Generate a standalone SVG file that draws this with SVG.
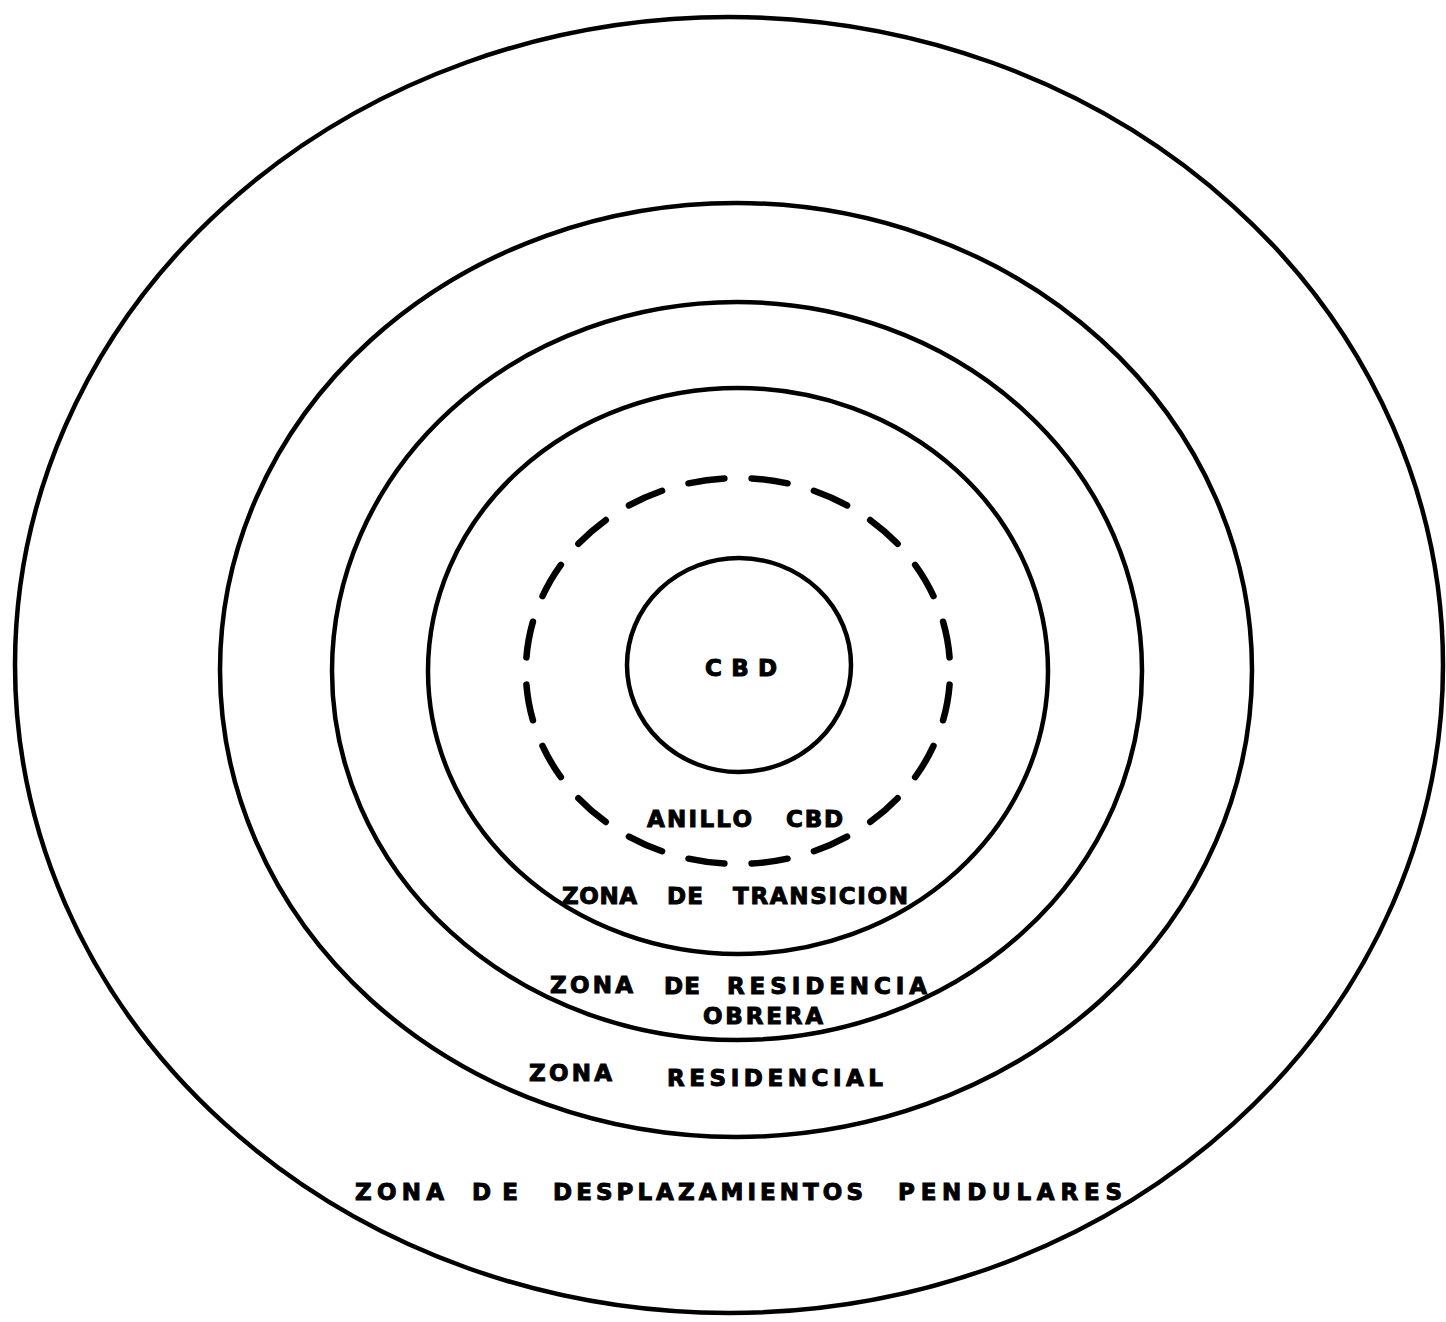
<svg xmlns="http://www.w3.org/2000/svg" width="1446" height="1322" viewBox="0 0 1446 1322">
<style>
.ring{fill:none;stroke:#000;stroke-width:4.5}
.dash{fill:none;stroke:#000;stroke-width:6.5;stroke-linecap:round;stroke-dasharray:0.57 0.43;stroke-dashoffset:0.785}
.lbl{font-family:"DejaVu Sans","Liberation Sans",Arial,sans-serif;font-weight:bold;font-size:23px;fill:#000;stroke:#000;stroke-width:1}
</style>
<rect x="0" y="0" width="1446" height="1322" fill="#fff"/>
<g id="connectors"></g>
<g id="zona-desplazamientos">
<ellipse class="ring" cx="729" cy="665" rx="714" ry="648" stroke-width="3.8"/>
<text class="lbl"><tspan x="355" y="1200" textLength="89" lengthAdjust="spacing">ZONA</tspan><tspan x="472" y="1200" textLength="46" lengthAdjust="spacing">DE</tspan><tspan x="553" y="1200" textLength="310" lengthAdjust="spacing">DESPLAZAMIENTOS</tspan><tspan x="898" y="1200" textLength="224" lengthAdjust="spacing">PENDULARES</tspan></text>
</g>
<g id="zona-residencial">
<ellipse class="ring" cx="736" cy="670" rx="516" ry="467"/>
<text class="lbl"><tspan x="529" y="1081" textLength="83" lengthAdjust="spacing">ZONA</tspan><tspan x="667" y="1086" textLength="216" lengthAdjust="spacing">RESIDENCIAL</tspan></text>
</g>
<g id="zona-residencia-obrera">
<ellipse class="ring" cx="737" cy="671" rx="405" ry="369"/>
<text class="lbl"><tspan x="550" y="993" textLength="83" lengthAdjust="spacing">ZONA</tspan><tspan x="664" y="994" textLength="36" lengthAdjust="spacing">DE</tspan><tspan x="727" y="994" textLength="200" lengthAdjust="spacing">RESIDENCIA</tspan></text>
<text class="lbl" x="703" y="1024" textLength="120" lengthAdjust="spacing">OBRERA</text>
</g>
<g id="zona-transicion">
<ellipse class="ring" cx="738" cy="671" rx="310" ry="283"/>
<text class="lbl"><tspan x="562" y="904" textLength="75" lengthAdjust="spacing">ZONA</tspan><tspan x="667" y="904" textLength="36" lengthAdjust="spacing">DE</tspan><tspan x="733" y="904" textLength="175" lengthAdjust="spacing">TRANSICION</tspan></text>
</g>
<g id="anillo-cbd">
<path class="dash" pathLength="20" d="M738,864 A212,193 0 1,1 738,478 A212,193 0 1,1 738,864 Z"/>
<text class="lbl"><tspan x="647" y="827" textLength="105" lengthAdjust="spacing">ANILLO</tspan><tspan x="786" y="827" textLength="57" lengthAdjust="spacing">CBD</tspan></text>
</g>
<g id="cbd">
<ellipse class="ring" cx="739" cy="665" rx="112" ry="107"/>
<text class="lbl" x="705" y="676" textLength="72" lengthAdjust="spacing">CBD</text>
</g>
</svg>
